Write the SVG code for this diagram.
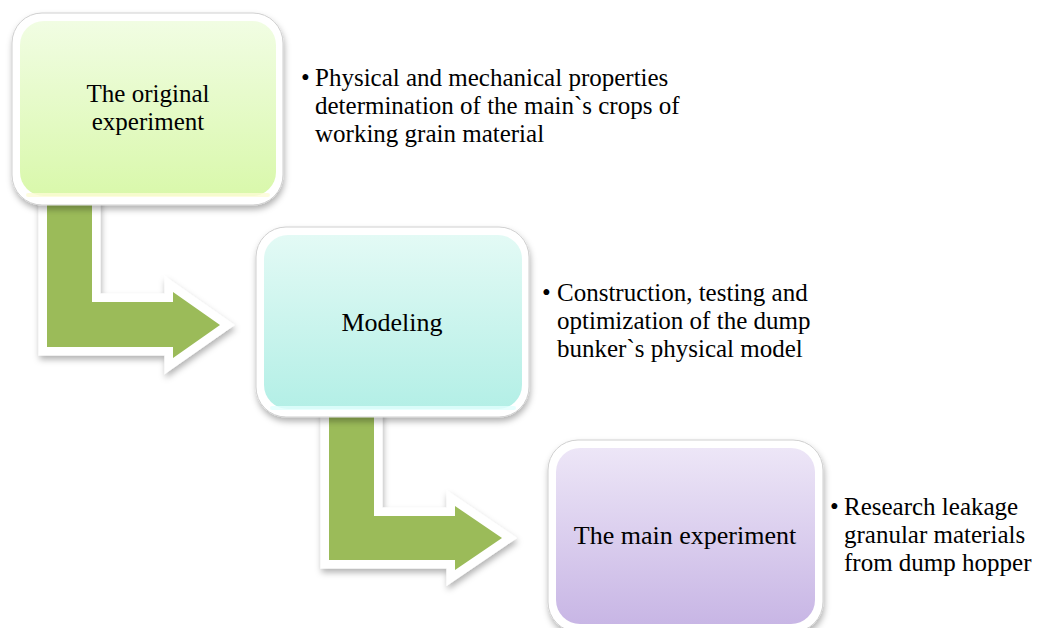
<svg xmlns="http://www.w3.org/2000/svg" width="1046" height="628" viewBox="0 0 1046 628">
<defs>
<linearGradient id="g1" x1="0" y1="0" x2="0" y2="1"><stop offset="0" stop-color="#f1fde3"/><stop offset="1" stop-color="#d9f8ab"/></linearGradient>
<linearGradient id="g2" x1="0" y1="0" x2="0" y2="1"><stop offset="0" stop-color="#e3faf5"/><stop offset="1" stop-color="#b3efe6"/></linearGradient>
<linearGradient id="g3" x1="0" y1="0" x2="0" y2="1"><stop offset="0" stop-color="#ede6f7"/><stop offset="1" stop-color="#c8b6e5"/></linearGradient>
<filter id="sh" x="-10%" y="-10%" width="130%" height="130%"><feDropShadow dx="1" dy="4" stdDeviation="3" flood-color="#000" flood-opacity="0.3"/></filter>
<path id="a1" d="M47,196 L92,196 L92,302 L173,302 L173,292 L220,325 L173,358 L173,347 L47,347 Z"/>
<path id="a2" d="M329,408 L374,408 L374,516 L455,516 L455,506 L502,538 L455,570 L455,560 L329,560 Z"/>
</defs>
<style>
.outer{fill:#ffffff;stroke:#cfcfcf;stroke-width:1}
.halo{fill:#ffffff;stroke:#ffffff;stroke-width:17;stroke-linejoin:miter;stroke-miterlimit:10}
.arrow{fill:#9bbb59}
.lbl{font-family:"Liberation Serif","Times New Roman",serif;font-size:26px;fill:#000;text-anchor:middle}
.lbl2{font-family:"Liberation Serif","Times New Roman",serif;font-size:25px;fill:#000;text-anchor:middle}
.txt{font-family:"Liberation Serif","Times New Roman",serif;font-size:25px;fill:#000}
</style>
<g id="connectors">
<use href="#a1" class="halo" filter="url(#sh)"/>
<use href="#a1" class="arrow"/>
<use href="#a2" class="halo" filter="url(#sh)"/>
<use href="#a2" class="arrow"/>
</g>
<g id="node1">
<rect class="outer" filter="url(#sh)" x="12" y="13" width="271" height="192" rx="30"/>
<rect x="20" y="21" width="256" height="175" rx="24" fill="url(#g1)"/>
<rect x="26" y="193" width="244" height="4" rx="2" fill="#fdfbd6" opacity="0.8"/>
<text class="lbl2" x="148" y="102">The original<tspan x="148" dy="28">experiment</tspan></text>
</g>
<g id="text1">
<text class="txt" x="301" y="86">•<tspan x="315">Physical and mechanical properties</tspan><tspan x="315" dy="28">determination of the main`s crops of</tspan><tspan x="315" dy="28">working grain material</tspan></text>
</g>
<g id="node2">
<rect class="outer" filter="url(#sh)" x="256" y="227" width="273" height="190" rx="30"/>
<rect x="264" y="235" width="258" height="174" rx="24" fill="url(#g2)"/>
<rect x="270" y="406" width="246" height="4" rx="2" fill="#e2fffe" opacity="0.8"/>
<text class="lbl" x="392" y="331">Modeling</text>
</g>
<g id="text2">
<text class="txt" x="542" y="301">•<tspan x="557">Construction, testing and</tspan><tspan x="557" dy="28">optimization of the dump</tspan><tspan x="557" dy="28">bunker`s physical model</tspan></text>
</g>
<g id="node3">
<rect class="outer" filter="url(#sh)" x="548" y="440" width="275" height="192" rx="30"/>
<rect x="556" y="448" width="259" height="176" rx="24" fill="url(#g3)"/>
<text class="lbl" x="685" y="544">The main experiment</text>
</g>
<g id="text3">
<text class="txt" x="830" y="515">•<tspan x="844">Research leakage</tspan><tspan x="844" dy="28">granular materials</tspan><tspan x="844" dy="28">from dump hopper</tspan></text>
</g>
</svg>
